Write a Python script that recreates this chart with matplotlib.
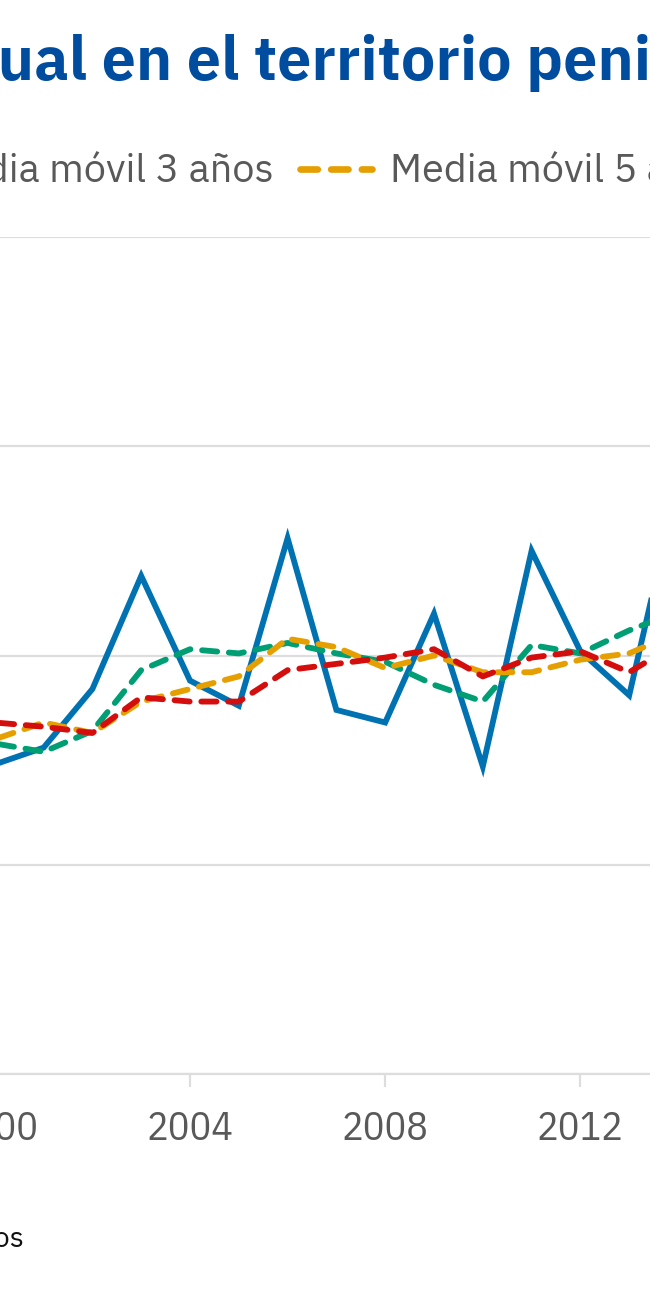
import matplotlib
matplotlib.use("Agg")
import matplotlib.pyplot as plt
from matplotlib.lines import Line2D
from matplotlib import font_manager as fm
import matplotlib.patheffects as pe

# datos (temperatura media anual, grados C)
years = [1999, 2000, 2001, 2002, 2003, 2004, 2005, 2006, 2007,
         2008, 2009, 2010, 2011, 2012, 2013, 2014, 2015]
anual = [13.70, 13.48, 13.56, 13.84, 14.38, 13.88, 13.76, 14.56, 13.74,
         13.68, 14.20, 13.47, 14.50, 14.02, 13.81, 14.82, 14.70]
media_3 = [13.62, 13.58, 13.54, 13.64, 13.93, 14.03, 14.01, 14.06, 14.01,
           13.97, 13.86, 13.78, 14.05, 14.01, 14.12, 14.21, 14.40]
media_5 = [13.55, 13.60, 13.68, 13.63, 13.78, 13.84, 13.90, 14.08, 14.04,
           13.94, 14.00, 13.92, 13.92, 13.98, 14.01, 14.11, 14.20]
media_10 = [13.68, 13.68, 13.66, 13.63, 13.80, 13.78, 13.78, 13.93, 13.96,
            13.99, 14.03, 13.90, 13.99, 14.02, 13.92, 14.06, 14.10]

series = ["Temperatura media anual", "Media móvil 3 años",
          "Media móvil 5 años", "Media móvil 10 años"]
xticks = list(range(1992, 2025, 4))
yticks = [12, 13, 14, 15, 16]

colors = {"Temperatura media anual": "#0072b2",
          "Media móvil 3 años": "#009e73",
          "Media móvil 5 años": "#e69f00",
          "Media móvil 10 años": "#d40d0d"}

W, H = 650, 1300
FONT = ["IBM Plex Sans", "Roboto", "DejaVu Sans"]
plt.rcParams["font.family"] = FONT

installed = set(f.name for f in fm.fontManager.ttflist)

# buscar una variante Plex que tenga negrita de verdad
bold_family = None
for cand in ["IBM Plex Sans", "IBM Plex Sans JP", "IBM Plex Sans KR",
             "IBM Plex Sans Thai", "IBM Plex Sans Hebrew",
             "IBM Plex Sans Arabic", "IBM Plex Sans Condensed"]:
    ok = [f for f in fm.fontManager.ttflist
          if f.name == cand and isinstance(f.weight, int) and f.weight >= 600]
    if ok:
        bold_family = cand
        break

# los años del eje van en la version estrecha
tick_font = FONT
if "IBM Plex Sans Condensed" in installed:
    tick_font = ["IBM Plex Sans Condensed"] + FONT

fig = plt.figure(figsize=(W / 100, H / 100), dpi=100)


def fx(px):
    return px / W


def fy(py):
    return 1 - py / H


# el grafico es mas ancho que la imagen (recorte)
x_left, x_right = 1990, 2025
px_year = 48.8
left_px = 190 + (x_left - 2004) * px_year
right_px = 190 + (x_right - 2004) * px_year
top_px, bottom_px = 236.7, 1074.3
ax = fig.add_axes([fx(left_px), fy(bottom_px),
                   fx(right_px - left_px), (bottom_px - top_px) / H])

dash = (2.6, 2.0)
lw = 4.2
ax.plot(years, anual, color=colors[series[0]], lw=lw,
        solid_joinstyle="miter", zorder=3)
for name, vals in zip(series[1:], [media_3, media_5, media_10]):
    ax.plot(years, vals, color=colors[name], lw=lw, dashes=dash,
            dash_capstyle="round", zorder=4)

ax.set_xlim(x_left, x_right)
ax.set_ylim(yticks[0], yticks[-1])
ax.set_xticks(xticks)
ax.set_yticks(yticks)
ax.grid(axis="y", color="#dddddd", lw=1.6)
ax.set_axisbelow(True)
for s in ["top", "left", "right"]:
    ax.spines[s].set_visible(False)
ax.spines["bottom"].set_color("#dddddd")
ax.spines["bottom"].set_linewidth(1.6)
ax.tick_params(axis="x", length=9.5, width=1.6, color="#dddddd",
               labelsize=29, labelcolor="#595959", pad=17)
ax.tick_params(axis="y", length=0, labelsize=29, labelcolor="#595959")
for lab in ax.get_xticklabels() + ax.get_yticklabels():
    lab.set_family(tick_font)

renderer = fig.canvas.get_renderer()

# titulo, recortado a la izquierda
title = "Temperatura media anual en el territorio peninsular"
title_kw = dict(fontsize=42, fontweight="bold")
if bold_family:
    title_kw["family"] = [bold_family, "DejaVu Sans"]
pre = fig.text(0, 0, "Temperatura media an", **title_kw)
w_pre = pre.get_window_extent(renderer).width
pre.remove()
t_title = fig.text(fx(-w_pre - 2), fy(80), title, color="#004c9e",
                   va="baseline", ha="left", **title_kw)
if not bold_family:
    t_title.set_path_effects([pe.withStroke(linewidth=1.8,
                                            foreground="#004c9e")])

# leyenda
leg_y = 169
txt_kw = dict(fontsize=28.5, color="#595959", va="baseline")


def handle(x0, name):
    ls = "-" if name == series[0] else (0, dash)
    fig.add_artist(Line2D([fx(x0), fx(x0 + 72)], [fy(leg_y), fy(leg_y)],
                          transform=fig.transFigure, color=colors[name],
                          lw=4.8, linestyle=ls, dash_capstyle="round",
                          solid_capstyle="butt"))


t3 = fig.text(fx(274), fy(182), series[1], ha="right", **txt_kw)
w3 = t3.get_window_extent(renderer).width
handle(274 - w3 - 18 - 72, series[1])
t0 = fig.text(fx(274 - w3 - 18 - 72 - 26), fy(182), series[0], ha="right",
              **txt_kw)
w0 = t0.get_window_extent(renderer).width
handle(274 - w3 - 18 - 72 - 26 - w0 - 18 - 72, series[0])

handle(300, series[2])
t5 = fig.text(fx(390), fy(182), series[2], ha="left", **txt_kw)
w5 = t5.get_window_extent(renderer).width
handle(390 + w5 + 26, series[3])
fig.text(fx(390 + w5 + 26 + 90), fy(182), series[3], ha="left", **txt_kw)

# fuente
fig.text(fx(24), fy(1247), "Fuente: AEMET · Elaboración propia con datos",
         ha="right", va="baseline", fontsize=21, color="#111111")

fig.savefig("out.png", dpi=100)
